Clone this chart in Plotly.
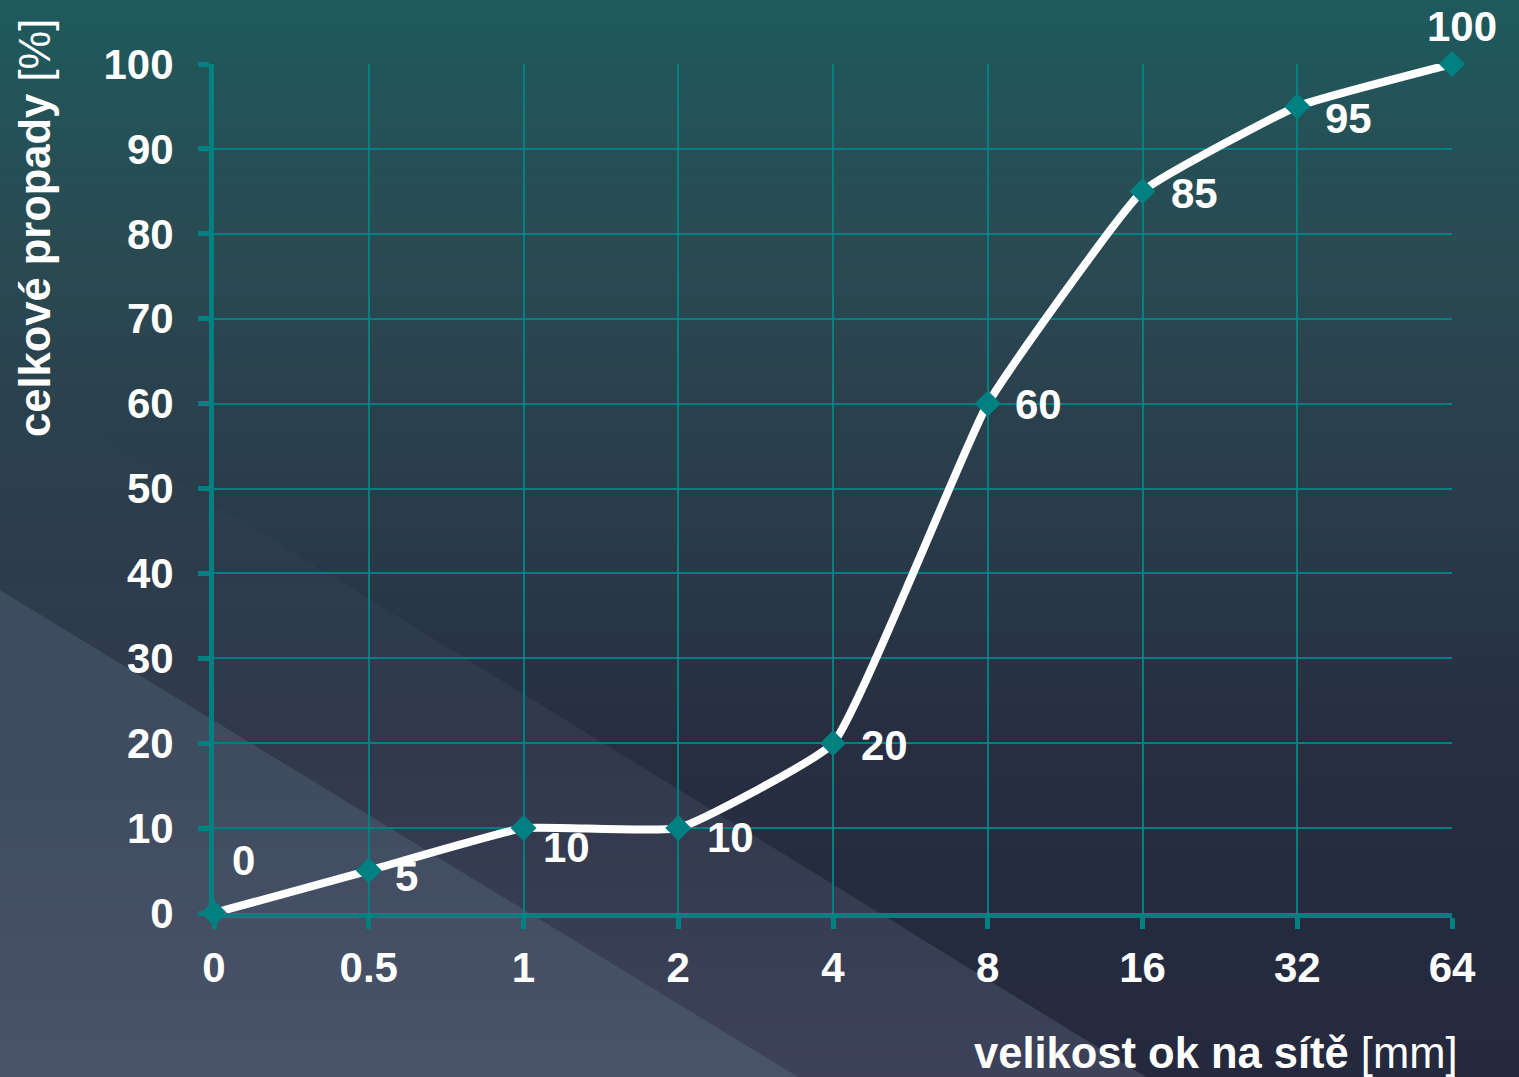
import base64
import struct
import zlib

import numpy as np
import plotly.graph_objects as go

# ---------------- data ----------------
sieve_labels = ["0", "0.5", "1", "2", "4", "8", "16", "32", "64"]
passing_pct = [0, 5, 10, 10, 20, 60, 85, 95, 100]
y_ticks = [0, 10, 20, 30, 40, 50, 60, 70, 80, 90, 100]
x_title = "<b>velikost ok na sítě</b> [mm]"
y_title = "<b>celkové propady</b> [%]"

# label offsets (pixels) relative to each point
label_dx = [29, 38, 43, 52, 51, 51, 52, 51, 10]
label_dy = [53, -6, -19, -9, -2, -1, -2, -12, 38]

# ---------------- layout geometry ----------------
W, H = 1519, 1077
ML, MR, MT, MB = 214, 67, 64, 164
PW, PH = W - ML - MR, H - MT - MB

TEAL = "#008080"
FONT = "Liberation Sans, Arial, sans-serif"


# ---------------- background image ----------------
def make_background():
    yy, xx = np.mgrid[0:H, 0:W].astype(np.float32)
    stops_y = [0, 250, 500, 750, 1077]
    stops_c = [(30, 90, 92), (42, 74, 82), (42, 60, 74), (38, 46, 64), (37, 41, 62)]
    col = np.stack(
        [np.interp(np.arange(H), stops_y, [c[i] for c in stops_c]) for i in range(3)],
        axis=-1,
    ).astype(np.float32)
    img = np.broadcast_to(col[:, None, :], (H, W, 3)).copy()

    # faint diagonal band
    m1 = np.clip((yy - (372 + 0.615 * xx)) / 1.5 + 0.5, 0, 1)
    a1 = (m1 * np.clip((yy - 400) / 700.0, 0, 1) ** 1.2 * 0.22)[..., None]
    c1 = np.array([150, 160, 190], np.float32)
    img = img * (1 - a1) + c1 * a1

    # stronger lower-left band
    m2 = (np.clip((yy - (590 + 0.61 * xx)) / 1.5 + 0.5, 0, 1) * 0.2)[..., None]
    c2 = np.array([120, 150, 170], np.float32)
    img = img * (1 - m2) + c2 * m2

    img = np.clip(img + 0.5, 0, 255).astype(np.uint8)
    raw = np.zeros((H, W * 3 + 1), np.uint8)
    raw[:, 1:] = img.reshape(H, W * 3)

    def chunk(tag, data):
        c = struct.pack(">I", len(data)) + tag + data
        return c + struct.pack(">I", zlib.crc32(tag + data) & 0xFFFFFFFF)

    png = b"\x89PNG\r\n\x1a\n"
    png += chunk(b"IHDR", struct.pack(">IIBBBBB", W, H, 8, 2, 0, 0, 0))
    png += chunk(b"IDAT", zlib.compress(raw.tobytes(), 9))
    png += chunk(b"IEND", b"")
    return "data:image/png;base64," + base64.b64encode(png).decode()


bg_src = make_background()

# ---------------- figure ----------------
x_idx = list(range(len(sieve_labels)))

fig = go.Figure()
fig.add_trace(
    go.Scatter(
        x=x_idx,
        y=passing_pct,
        mode="lines+markers",
        line=dict(color="white", width=8, shape="spline", smoothing=0.35),
        marker=dict(symbol="diamond", size=20, color=TEAL),
        cliponaxis=False,
        hoverinfo="skip",
        showlegend=False,
    )
)

annotations = []
for i, v in enumerate(passing_pct):
    annotations.append(
        dict(
            x=x_idx[i], y=v, xref="x", yref="y", text=f"<b>{v}</b>",
            showarrow=False, xshift=label_dx[i], yshift=label_dy[i],
            font=dict(family=FONT, size=42, color="white"),
            xanchor="center", yanchor="middle",
        )
    )

# axis titles
annotations.append(
    dict(
        x=(1215 - ML) / PW, y=(MT + PH - 1053) / PH, xref="paper", yref="paper",
        text=x_title, showarrow=False, xanchor="center", yanchor="middle",
        font=dict(family=FONT, size=43.5, color="white"),
    )
)
annotations.append(
    dict(
        x=(35 - ML) / PW, y=(MT + PH - 228) / PH, xref="paper", yref="paper",
        text=y_title, showarrow=False, xanchor="center", yanchor="middle",
        textangle=-90, font=dict(family=FONT, size=43.5, color="white"),
    )
)

axis_common = dict(
    showgrid=True, gridcolor=TEAL, gridwidth=2,
    showline=True, linecolor=TEAL, linewidth=5,
    ticks="outside", ticklen=11, tickwidth=5, tickcolor=TEAL,
    tickfont=dict(family=FONT, size=42, color="white", weight="bold"),
    zeroline=False, fixedrange=True,
)

fig.update_layout(
    width=W, height=H,
    margin=dict(l=ML, r=MR, t=MT, b=MB, pad=0),
    paper_bgcolor="#252a3e",
    plot_bgcolor="rgba(0,0,0,0)",
    xaxis=dict(
        range=[0, len(sieve_labels) - 1], tickmode="array",
        tickvals=x_idx, ticktext=sieve_labels, ticklabelstandoff=3,
        **axis_common,
    ),
    yaxis=dict(
        range=[0, 100], tickmode="array", tickvals=y_ticks,
        ticklabelstandoff=16, **axis_common,
    ),
    annotations=annotations,
    images=[
        dict(
            source=bg_src, xref="paper", yref="paper",
            x=-ML / PW, y=1 + MT / PH, sizex=W / PW, sizey=H / PH,
            xanchor="left", yanchor="top", sizing="stretch", layer="below",
        )
    ],
    showlegend=False,
)

fig.write_html("out.html", config={"displayModeBar": False})
